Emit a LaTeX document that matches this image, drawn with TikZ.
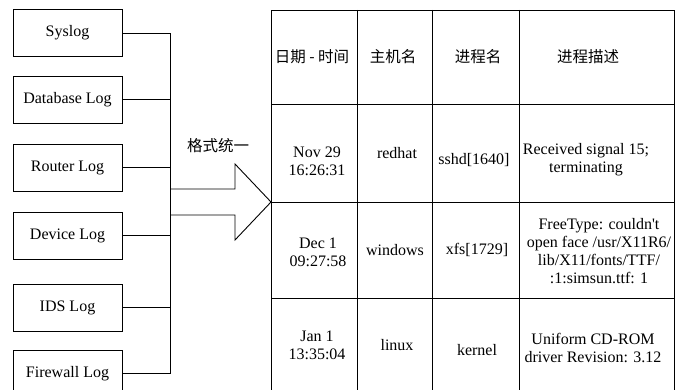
\documentclass[tikz,border=0pt]{standalone}
\usepackage{fontspec}
\setmainfont{Liberation Serif}[Ligatures=TeXOff]
\newfontfamily\cjk{Noto Sans CJK SC}
\begin{document}
\begin{tikzpicture}[x=1pt,y=-1pt,line width=0.9pt,
  every node/.style={font=\fontsize{16}{18}\selectfont},
  logbox/.style={draw,minimum width=109pt,minimum height=47pt,inner sep=0pt,anchor=center},
  cell/.style={align=center,inner sep=0pt},
  hdr/.style={inner sep=0pt,font=\cjk\fontsize{15.5}{18}\selectfont}]
\useasboundingbox (0,0) rectangle (677,390);
\clip (0,0) rectangle (677,390);
% log boxes
\node[logbox] (sys) at (67.5,33) {Syslog};
\node[logbox] (db) at (67.5,99.5) {Database Log};
\node[logbox] (rt) at (67.5,167.5) {Router Log};
\node[logbox] (dv) at (67.5,235.5) {Device Log};
\node[logbox] (ids) at (67.5,307.5) {IDS Log};
\node[logbox] (fw) at (67.5,373.5) {Firewall Log};
% bus
\coordinate (bt) at (170,33);
\coordinate (bb) at (170,373.5);
\draw (sys.east) -| (bb);
\draw (fw.east) -- (fw.east -| bt);
\draw (db.east) -- (db.east -| bt);
\draw (rt.east) -- (rt.east -| bt);
\draw (dv.east) -- (dv.east -| bt);
\draw (ids.east) -- (ids.east -| bt);
% big arrow
\coordinate (a1) at (170,189);
\coordinate (a2) at (235,189);
\coordinate (a3) at (235,164);
\coordinate (tip) at (271,202);
\coordinate (a5) at (235,240);
\coordinate (a6) at (235,215);
\coordinate (a7) at (170,215);
\draw[line join=miter] (a1) -- (a2) -- (a3) -- (tip) -- (a5) -- (a6) -- (a7);
\node[hdr] (fmt) at (218,146) {格式统一};
% table
\coordinate (tl) at (271,10);
\coordinate (br) at (674,400);
\draw (tl) rectangle (br);
\draw (271,104) -- (674,104);
\draw (271,202) -- (674,202);
\draw (271,298) -- (674,298);
\draw (357,10) -- (357,400);
\draw (432,10) -- (432,400);
\draw (519,10) -- (519,400);
% header
\node[hdr] (h1) at (312,57) {日期 - 时间};
\node[hdr] (h2) at (393,57) {主机名};
\node[hdr] (h3) at (478,57) {进程名};
\node[hdr] (h4) at (588,57) {进程描述};
% row 1
\node[cell] (r1c1) at (317,161) {Nov 29\\16:26:31};
\node[cell] (r1c2) at (397,153) {redhat};
\node[cell] (r1c3) at (474,160) {sshd[1640]};
\node[cell] (r1c4) at (586,160) {Received signal 15;\\terminating};
% row 2
\node[cell] (r2c1) at (318,252) {Dec 1\\09:27:58};
\node[cell] (r2c2) at (395,250) {windows};
\node[cell] (r2c3) at (477,250) {xfs[1729]};
\node[cell] (r2c4) at (599,251.5) {FreeType: couldn't\\open face /usr/X11R6/\\lib/X11/fonts/TTF/\\:1:simsun.ttf: 1};
% row 3
\node[cell] (r3c1) at (317,345) {Jan 1\\13:35:04};
\node[cell] (r3c2) at (397,345) {linux};
\node[cell] (r3c3) at (477,350) {kernel};
\node[cell] (r3c4) at (593,348) {Uniform CD-ROM\\driver Revision: 3.12};
\end{tikzpicture}
\end{document}
